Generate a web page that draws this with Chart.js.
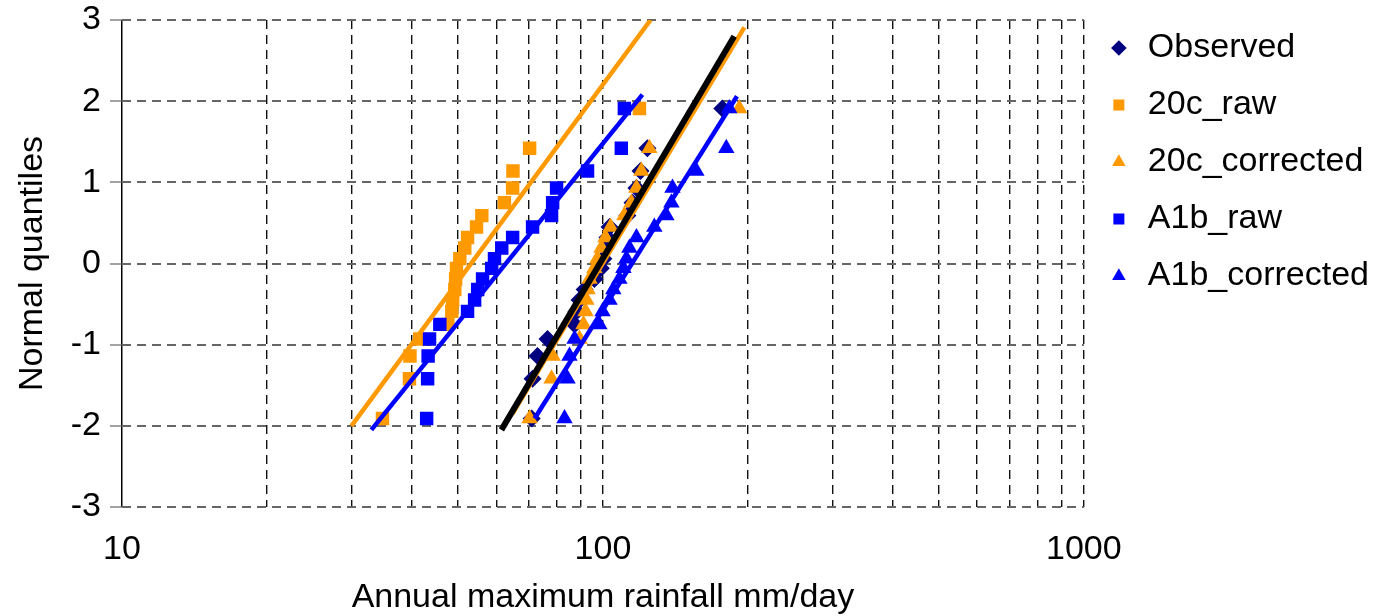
<!DOCTYPE html>
<html>
<head>
<meta charset="utf-8">
<script src="https://cdn.jsdelivr.net/npm/chart.js@4.4.1/dist/chart.umd.min.js"></script>
<style>
  html, body { margin: 0; padding: 0; background: #fff; }
  #wrap { width: 1389px; height: 616px; }
</style>
</head>
<body>
<div id="wrap"><canvas id="qqChart"></canvas></div>
<script>
// normal quantile of each ranked value (same for every series)
const levels = [-1.91, -1.42, -1.14, -0.93, -0.75, -0.59, -0.45, -0.32, -0.19, -0.06,
                0.06, 0.19, 0.32, 0.45, 0.59, 0.75, 0.93, 1.14, 1.42, 1.91];

// annual maximum rainfall, mm/day (ranked)
const observed = [71.1, 71.4, 73.1, 76.7, 87.3, 88.1, 89.4, 91.6, 96.0, 99.0,
                  100.2, 101.2, 102.2, 103.2, 112.4, 115.2, 117.4, 119.7, 123.7, 177.1];
const raw20c = [34.8, 39.6, 39.7, 41.6, 47.6, 48.5, 48.7, 49.2, 49.4, 49.6,
                50.4, 51.6, 52.3, 54.6, 56.0, 62.4, 64.9, 65.0, 70.4, 119.1];
const corrected20c = [70.4, 78.2, 78.6, 89.4, 91.1, 92.0, 92.4, 92.9, 93.8, 96.0,
                      97.4, 99.3, 101.2, 103.7, 110.8, 114.6, 117.4, 120.2, 124.9, 192.1];
const rawA1b = [43.0, 43.2, 43.3, 43.6, 45.8, 52.3, 54.1, 54.9, 56.2, 58.7,
                59.5, 61.6, 64.9, 71.4, 78.2, 78.6, 80.1, 92.9, 109.2, 110.8];
const correctedA1b = [83.2, 84.4, 85.2, 87.3, 98.3, 99.8, 103.2, 105.1, 108.2, 110.3,
                      111.9, 113.5, 117.4, 127.9, 135.5, 138.8, 139.5, 156.4, 180.5, 183.1];

// fitted distribution lines (end points)
const obsFitX = [61.5, 187.5],          obsFitY = [-2.05, 2.80];
const raw20cFitX = [30.0, 125.6],       raw20cFitY = [-2.00, 3.00];
const cor20cFitX = [64.9, 196.8],       cor20cFitY = [-1.85, 2.91];
const rawA1bFitX = [33.0, 120.8],       rawA1bFitY = [-2.05, 2.08];
const corA1bFitX = [72.1, 190.0],       corA1bFitY = [-1.91, 2.06];

// x grid positions and labelled ticks
const xGrid = [10, 20, 30, 40, 50, 60, 70, 80, 90, 100, 200, 300, 400, 500, 600, 700, 800, 900, 1000];
const xLabels = [10, 100, 1000];

const FONT = "'Liberation Sans', Arial, Helvetica, sans-serif";
const NAVY = '#000080', ORANGE = '#ff9900', BLUE = '#0000ff';

const pts = (xs, ys) => xs.map((x, i) => ({ x: x, y: ys[i] }));

function fitLine(xs, ys, color, width) {
  return {
    data: pts(xs, ys), showLine: true, borderColor: color, backgroundColor: color,
    borderWidth: width, pointRadius: 0, order: 0, fill: false
  };
}

function series(label, xs, style, color, radius, order) {
  return {
    label: label, data: pts(xs, levels), showLine: false,
    pointStyle: style, pointRadius: radius, pointHoverRadius: radius,
    backgroundColor: color, borderColor: color, pointBorderWidth: 0, borderWidth: 1,
    order: order
  };
}

const ctx = document.getElementById('qqChart').getContext('2d');

new Chart(ctx, {
  type: 'scatter',
  data: {
    datasets: [
      fitLine(obsFitX, obsFitY, '#000000', 6),
      fitLine(cor20cFitX, cor20cFitY, ORANGE, 4.5),
      fitLine(raw20cFitX, raw20cFitY, ORANGE, 4.5),
      fitLine(corA1bFitX, corA1bFitY, BLUE, 4.5),
      fitLine(rawA1bFitX, rawA1bFitY, BLUE, 4.5),
      series('Observed', observed, 'rectRot', NAVY, 9, 5),
      series('20c_raw', raw20c, 'rect', ORANGE, 9.5, 4),
      series('20c_corrected', corrected20c, 'triangle', ORANGE, 9.5, 3),
      series('A1b_raw', rawA1b, 'rect', BLUE, 9.5, 2),
      series('A1b_corrected', correctedA1b, 'triangle', BLUE, 9.5, 1)
    ]
  },
  options: {
    responsive: true,
    maintainAspectRatio: false,
    animation: false,
    layout: { padding: { top: 8, right: 10, bottom: 0, left: 0 } },
    plugins: {
      tooltip: { enabled: false },
      legend: {
        position: 'right',
        align: 'start',
        labels: {
          usePointStyle: true,
          boxWidth: 24,
          boxHeight: 11,
          padding: 23,
          color: '#000',
          font: { family: FONT, size: 34 },
          filter: item => item.datasetIndex >= 5,
          sort: (a, b) => a.datasetIndex - b.datasetIndex
        }
      }
    },
    scales: {
      x: {
        type: 'logarithmic',
        min: 10,
        max: 1000,
        afterBuildTicks: axis => { axis.ticks = xGrid.map(v => ({ value: v })); },
        afterFit: axis => { axis.height = 109; },
        ticks: {
          autoSkip: false,
          maxRotation: 0,
          padding: 22,
          color: '#000',
          font: { family: FONT, size: 34 },
          callback: v => (xLabels.includes(v) ? String(v) : '')
        },
        grid: {
          color: c => (c.tick && c.tick.value === 10 ? '#000' : '#111'),
          lineWidth: c => (c.tick && c.tick.value === 10 ? 1.5 : 1.4),
          drawTicks: false
        },
        border: { display: false, dash: c => (c.tick && c.tick.value === 10 ? [] : [9, 6]) },
        title: {
          display: true,
          text: 'Annual maximum rainfall mm/day',
          color: '#000',
          font: { family: FONT, size: 34, lineHeight: 1.1 },
          padding: { top: 9, bottom: 0 }
        }
      },
      y: {
        min: -3,
        max: 3,
        afterFit: axis => { axis.width = 122; axis.paddingTop = 20; },
        ticks: {
          stepSize: 1,
          padding: 9,
          color: '#000',
          font: { family: FONT, size: 34 }
        },
        grid: { color: '#666', lineWidth: 2, tickLength: 12, tickColor: '#666', tickWidth: 1.2 },
        border: { display: false, dash: [9, 6] },
        title: {
          display: true,
          text: 'Normal quantiles',
          color: '#000',
          font: { family: FONT, size: 34, lineHeight: 1.2 },
          padding: { top: 12, bottom: 18 }
        }
      }
    }
  }
});
</script>
</body>
</html>
